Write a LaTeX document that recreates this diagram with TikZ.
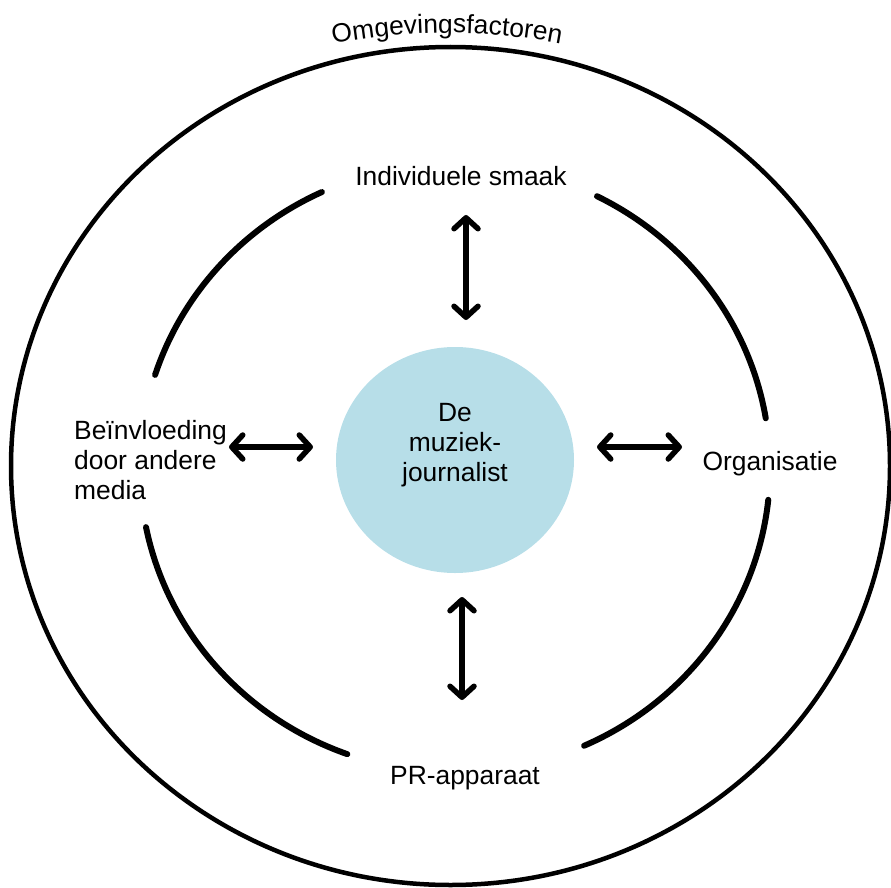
\documentclass[tikz,border=0pt]{standalone}
\usepackage{fontspec}
\setmainfont{Liberation Sans}
\usetikzlibrary{arrows.meta,decorations.text,shapes.geometric}
\definecolor{aqua}{HTML}{B7DEE8}
\begin{document}
\begin{tikzpicture}[x=1pt,y=1pt,
  ring/.style={line width=6pt, line cap=round},
  outerring/.style={line width=4.5pt},
  lbl/.style={font=\fontsize{26.4}{30}\selectfont, inner sep=0pt},
  barb/.tip={Straight Barb[length=11pt,width=24pt,round]},
  link/.style={line width=5.5pt, barb-barb},
]
\useasboundingbox (0,0) rectangle (891,-888);

% outer ring
\draw[outerring] (450.5,-466) ellipse [x radius=439.5, y radius=419];
\path[decorate, decoration={text along path, text align=center,
  text={|\fontsize{26.4}{30}\selectfont|Omgevingsfactoren}}]
  (447,-640) ++(102:607) arc[start angle=102, end angle=78, radius=607];

% inner ring arcs
\coordinate (C) at (455,-468);
\draw[ring] (C) ++(162.2:315 and 304.5) arc[start angle=162.2, end angle=115, x radius=315, y radius=304.5];
\draw[ring] (C) ++(63.2:315 and 304.5) arc[start angle=63.2, end angle=9.4, x radius=315, y radius=304.5];
\draw[ring] (C) ++(-6:315 and 304.5) arc[start angle=-6, end angle=-65.8, x radius=315, y radius=304.5];
\draw[ring] (C) ++(191.2:315 and 304.5) arc[start angle=191.2, end angle=250, x radius=315, y radius=304.5];

% centre
\node[ellipse, fill=aqua, minimum width=238pt, minimum height=226pt, inner sep=0pt] (mj) at (455,-460) {};
\node[lbl, align=center, font=\fontsize{26.4}{30}\selectfont] (mjtext) at (455,-445) {De\\muziek-\\journalist};

% labels
\node[lbl, anchor=base] (ind) at (461,-185) {Individuele smaak};
\node[lbl, anchor=base] (org) at (770,-470) {Organisatie};
\node[lbl, anchor=base] (pr) at (465,-784) {PR-apparaat};
\node[lbl, anchor=west, align=left, font=\fontsize{26.4}{30}\selectfont] (bei) at (74,-460) {Beïnvloeding\\door andere\\media};

% arrows
\coordinate (t1) at (466,-215); \coordinate (t2) at (466,-320);
\coordinate (b1) at (462,-597); \coordinate (b2) at (462,-700);
\coordinate (l1) at (229,-447); \coordinate (l2) at (313,-447);
\coordinate (r1) at (597,-447); \coordinate (r2) at (682,-447);
\draw[link] (t1) -- (t2);
\draw[link] (b1) -- (b2);
\draw[link] (l1) -- (l2);
\draw[link] (r1) -- (r2);
\end{tikzpicture}
\end{document}
